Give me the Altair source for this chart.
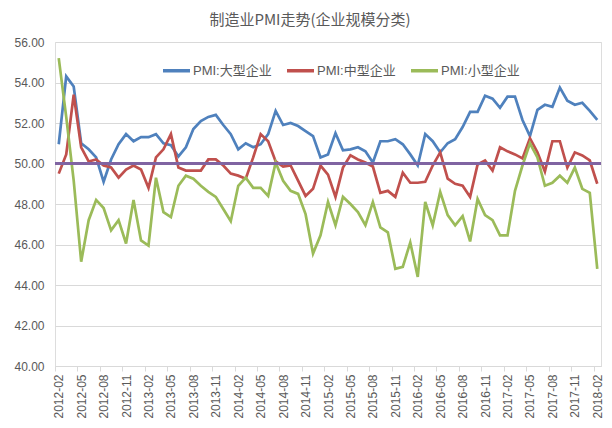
import altair as alt
import pandas as pd

# 2012-02 .. 2018-02 (73 months)
all_months = [f"{y}-{m:02d}" for y in range(2012, 2019) for m in range(1, 13)]
months = all_months[1:74]

series_names = ["PMI:大型企业", "PMI:中型企业", "PMI:小型企业"]
series_colors = ["#4F81BD", "#C0504D", "#9BBB59"]

large = [50.95, 54.3, 53.8, 51.0, 50.7, 50.3, 49.1, 50.2, 50.95, 51.45,
         51.1, 51.3, 51.3, 51.45, 51.0, 50.9, 50.35, 50.8, 51.7, 52.1,
         52.3, 52.4, 51.9, 51.45, 50.7, 51.0, 50.8, 50.95, 51.45, 52.6,
         51.9, 52.0, 51.85, 51.6, 51.35, 50.3, 50.45, 51.5, 50.65, 50.7,
         50.8, 50.6, 50.05, 51.1, 51.1, 51.2, 50.95, 50.45, 49.9, 51.45,
         51.1, 50.55, 51.0, 51.2, 51.8, 52.55, 52.55, 53.35, 53.2, 52.75,
         53.3, 53.3, 52.15, 51.35, 52.65, 52.9, 52.8, 53.75, 53.1, 52.9,
         53.0, 52.6, 52.15]

medium = [49.5, 50.45, 53.4, 50.8, 50.1, 50.2, 49.9, 49.8, 49.3, 49.7,
          49.9, 49.7, 48.8, 50.3, 50.7, 51.45, 49.8, 49.65, 49.65, 49.65,
          50.2, 50.2, 49.9, 49.5, 49.4, 49.25, 50.3, 51.45, 51.1, 50.1,
          49.85, 49.9, 49.15, 48.4, 48.75, 49.9, 49.45, 48.35, 49.8, 50.4,
          50.2, 50.05, 49.85, 48.55, 48.65, 48.35, 49.55, 49.05, 49.05, 49.1,
          49.9, 50.55, 49.25, 49.0, 48.9, 48.35, 49.95, 50.15, 49.65, 50.8,
          50.6, 50.45, 50.25, 51.25, 50.55, 49.6, 51.1, 51.1, 49.8, 50.55,
          50.4, 50.15, 49.0]

small = [55.2, 52.3, 49.15, 45.15, 47.2, 48.2, 47.8, 46.7, 47.2, 46.05,
         48.2, 46.2, 45.95, 49.3, 47.6, 47.35, 48.9, 49.4, 49.25, 48.9,
         48.6, 48.35, 47.75, 47.15, 48.9, 49.3, 48.8, 48.8, 48.4, 50.05,
         49.15, 48.65, 48.5, 47.5, 45.55, 46.45, 48.1, 46.95, 48.35, 48.0,
         47.6, 46.95, 48.1, 46.85, 46.6, 44.8, 44.9, 46.1, 44.4, 48.1,
         46.95, 48.6, 47.45, 46.95, 47.4, 46.15, 48.25, 47.45, 47.2, 46.45,
         46.45, 48.65, 49.9, 51.0, 50.3, 48.9, 49.05, 49.4, 49.05, 49.8,
         48.75, 48.55, 44.8]

threshold = 50
y_ticks = [40, 42, 44, 46, 48, 50, 52, 54, 56]

rows = []
for name, vals in zip(series_names, [large, medium, small]):
    for m, v in zip(months, vals):
        rows.append({"month": m, "series": name, "value": v})
df = pd.DataFrame(rows)

W = 546
H = 324
step = W / len(months)
FONT = "Liberation Sans, Noto Sans CJK SC"

lines = alt.Chart(df).mark_line(strokeWidth=2.7).encode(
    x=alt.X("month:O", sort=months,
            scale=alt.Scale(type="point", padding=0.5),
            axis=alt.Axis(values=months[::3], labelAngle=-90, title=None,
                          tickOffset=-step / 2, labelOffset=step / 2,
                          tickSize=5, tickColor="#D9D9D9", labelPadding=3,
                          domainColor="#D9D9D9", grid=False,
                          labelFontSize=12, labelColor="#595959", labelFont=FONT)),
    y=alt.Y("value:Q",
            scale=alt.Scale(domain=[40, 56], nice=False, zero=False),
            axis=alt.Axis(values=y_ticks, format=".2f", title=None, domain=False,
                          ticks=False, labelPadding=11, gridColor="#D9D9D9",
                          labelFontSize=12, labelColor="#595959", labelFont=FONT)),
    color=alt.Color("series:N",
                    scale=alt.Scale(domain=series_names, range=series_colors),
                    legend=alt.Legend(title=None, orient="none", direction="horizontal",
                                      legendX=106, legendY=13,
                                      symbolType="stroke", symbolSize=729,
                                      symbolStrokeWidth=3.5, columnPadding=8,
                                      labelOffset=1,
                                      labelFontSize=13, labelColor="#595959",
                                      labelFont=FONT)),
)

rule = alt.Chart(pd.DataFrame({"y": [threshold]})).mark_rule(
    color="#8064A2", strokeWidth=3
).encode(y="y:Q")

chart = alt.layer(lines, rule).properties(
    width=W, height=H,
    title=alt.TitleParams("制造业PMI走势(企业规模分类)", fontSize=15, fontWeight="normal",
                          color="#595959", font="Noto Sans CJK SC", anchor="middle",
                          dx=-18, offset=8),
    padding={"left": 5, "top": 5, "right": 0, "bottom": 0},
).configure_view(stroke=None).configure(background="white")

chart.save("out.html", embed_options={"renderer": "svg", "actions": False})
